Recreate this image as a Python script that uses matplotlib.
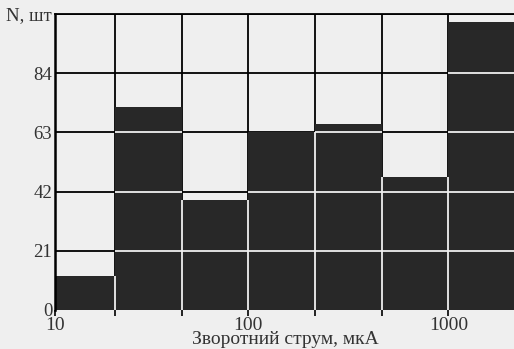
import numpy as np
import matplotlib
matplotlib.use("Agg")
import matplotlib.pyplot as plt
from matplotlib.ticker import NullLocator

# histogram data: log-spaced bins of reverse current (uA), counts per bin
bin_edges = [10.8, 21.5, 46.4, 100, 215, 464, 1000, 2154]
counts = [12, 72, 39, 63, 66, 47, 102]
y_ticks = [0, 21, 42, 63, 84, 105]
y_labels = ["0", "21", "42", "63", "84", "N, шт"]
x_ticks = bin_edges[:-1]
x_labels = ["10", "", "", "100", "", "", "1000"]

bg = "#efefef"
bar_col = "#282828"

plt.rcParams["font.family"] = ["Liberation Serif", "DejaVu Serif"]

fig = plt.figure(figsize=(5.14, 3.49), dpi=100)
fig.patch.set_facecolor(bg)
ax = fig.add_axes([0.107, 0.112, 0.895, 0.848])
ax.set_facecolor(bg)
ax.set_xscale("log")

lefts = np.array(bin_edges[:-1])
widths = np.diff(bin_edges)
ax.bar(lefts, counts, width=widths, align="edge", color=bar_col,
       edgecolor="none", zorder=2)

ax.set_xlim(bin_edges[0], bin_edges[-1])
ax.set_ylim(0, 105)

# black grid behind the bars
ax.set_axisbelow(True)
ax.set_xticks(x_ticks)
ax.set_xticklabels(x_labels)
ax.xaxis.set_minor_locator(NullLocator())
ax.set_yticks(y_ticks)
ax.set_yticklabels(y_labels)
ax.grid(True, color="black", linewidth=1.3)

# light grid segments where the grid crosses the dark bars
for y in y_ticks[1:-1]:
    for i, c in enumerate(counts):
        if c > y:
            ax.hlines(y, bin_edges[i], bin_edges[i + 1], color=bg,
                      linewidth=1.3, zorder=3)
for i in range(1, len(counts)):
    top = min(counts[i - 1], counts[i])
    ax.vlines(bin_edges[i], 0, top, color=bg, linewidth=1.3, zorder=3)

ax.spines["right"].set_visible(False)
ax.spines["bottom"].set_visible(False)
ax.spines["left"].set_linewidth(1.8)
ax.spines["top"].set_linewidth(1.3)

ax.tick_params(axis="x", direction="out", length=4, width=1.2,
               labelsize=14, pad=1, colors="black", labelcolor="#333333")
ax.tick_params(axis="y", length=0, labelsize=13.5, pad=2,
               labelcolor="#333333")

ax.set_xlabel("Зворотний струм, мкА", fontsize=14, color="#333333",
              labelpad=-2)

fig.savefig("out.png", dpi=100, facecolor=fig.get_facecolor())
